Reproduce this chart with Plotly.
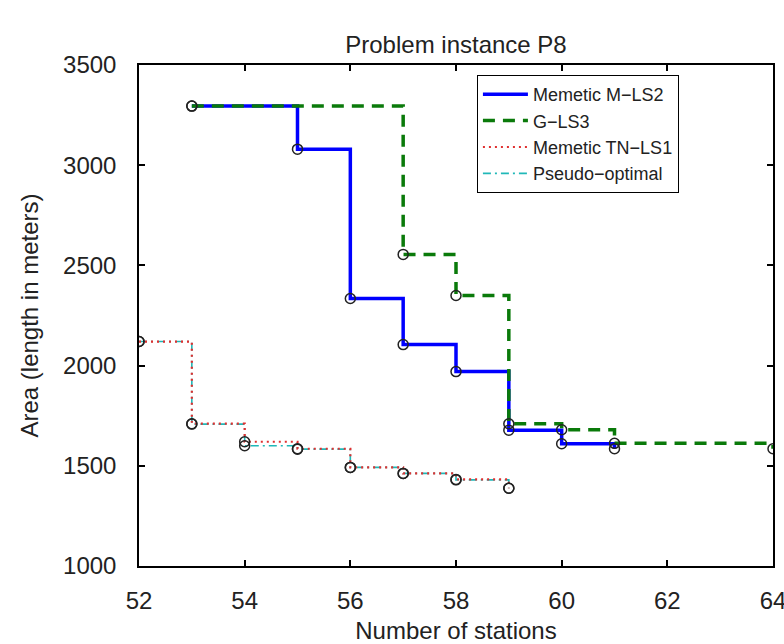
import plotly.graph_objects as go

# Data
x_mls2 = [53, 55, 56, 57, 58, 59, 60, 61]
y_mls2 = [3295, 3080, 2335, 2105, 1970, 1678, 1610, 1585]

x_gls3 = [53, 57, 58, 59, 60, 61, 64]
y_gls3 = [3295, 2555, 2350, 1710, 1680, 1612, 1585]

x_tnls1 = [52, 53, 54, 55, 56, 57, 58, 59]
y_tnls1 = [2120, 1710, 1620, 1585, 1492, 1462, 1432, 1388]

x_pseudo = [52, 53, 54, 55, 56, 57, 58, 59]
y_pseudo = [2120, 1708, 1600, 1583, 1492, 1462, 1430, 1388]

names = ["Memetic M−LS2", "G−LS3", "Memetic TN−LS1", "Pseudo−optimal"]

FONT = "Liberation Sans, Arial, sans-serif"

fig = go.Figure()

series = [
    (x_mls2, y_mls2, names[0], dict(color="#0000FF", width=3.5, dash="solid"), 1),
    (x_gls3, y_gls3, names[1], dict(color="#0A7A0A", width=3.5, dash="12px,8px"), 2),
    (x_pseudo, y_pseudo, names[3], dict(color="#20B8B8", width=1.6, dash="8px,4px,2px,4px"), 4),
    (x_tnls1, y_tnls1, names[2], dict(color="#E03030", width=2.2, dash="2px,4px"), 3),
]

for xs, ys, nm, ln, rk in series:
    fig.add_trace(go.Scatter(x=xs, y=ys, mode="lines", name=nm, legendrank=rk,
                             line=dict(shape="hv", **ln)))

for xs, ys, nm, ln, rk in series:
    fig.add_trace(go.Scatter(x=xs, y=ys, mode="markers", showlegend=False,
                             hoverinfo="skip",
                             marker=dict(symbol="circle-open", size=10,
                                         color="#222222", line=dict(width=1.5))))

axis_common = dict(showline=True, linecolor="black", linewidth=1.5, mirror="ticks",
                   ticks="inside", ticklen=6, tickwidth=1.5, tickcolor="black",
                   showgrid=False, zeroline=False, automargin=False,
                   ticklabeloverflow="allow",
                   tickfont=dict(family=FONT, size=24, color="#222222"))

fig.update_layout(
    width=784, height=644,
    margin=dict(l=139, r=11, t=65, b=78),
    paper_bgcolor="white", plot_bgcolor="white",
    font=dict(family=FONT, color="#222222"),
    title=dict(text="Problem instance P8", x=456 / 784, xanchor="center",
               y=1 - 45 / 644, yanchor="middle", yref="container",
               font=dict(family=FONT, size=24, color="#222222"), automargin=False),
    xaxis=dict(range=[52, 64], dtick=2, tick0=52, ticklabelstandoff=12,
               title=dict(text="Number of stations", standoff=28,
                          font=dict(family=FONT, size=24, color="#222222")),
               **axis_common),
    yaxis=dict(range=[1000, 3500], dtick=500, tick0=1000, ticklabelstandoff=16,
               title=dict(text="Area (length in meters)", standoff=18,
                          font=dict(family=FONT, size=24, color="#222222")),
               **axis_common),
    legend=dict(x=0.533, y=0.98, xanchor="left", yanchor="top",
                bgcolor="white", bordercolor="black", borderwidth=1,
                itemwidth=45, tracegroupgap=0, entrywidth=162, entrywidthmode="pixels",
                font=dict(family=FONT, size=18, color="#222222")),
    showlegend=True,
)

fig.write_html("out.html", config={"displayModeBar": False},
               post_script="document.body.style.margin='0px';")
